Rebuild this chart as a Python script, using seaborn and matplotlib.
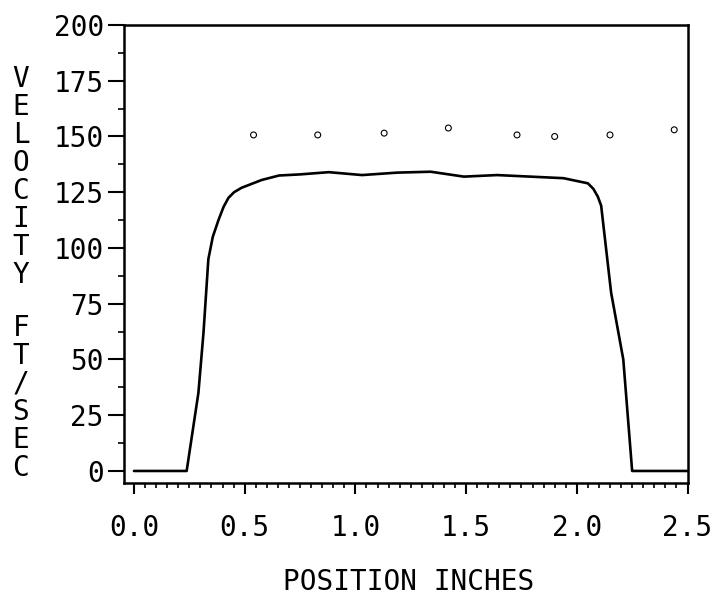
import matplotlib
matplotlib.use("Agg")
import matplotlib.pyplot as plt
from matplotlib.ticker import MultipleLocator
import numpy as np
import pandas as pd
import seaborn as sns

# ---- data ----
position = [0.0, 0.238, 0.291, 0.314, 0.336, 0.356, 0.382, 0.405, 0.427, 0.452, 0.486,
            0.577, 0.655, 0.75, 0.88, 1.03, 1.19, 1.34, 1.49, 1.64, 1.79, 1.94,
            2.05, 2.075, 2.095, 2.11, 2.155, 2.21, 2.25, 2.5]
velocity = [0, 0, 35, 62, 95, 105, 112.6, 118.5, 122.5, 125, 127,
            130.5, 132.5, 133, 134, 132.7, 133.8, 134.2, 132, 132.7, 132, 131.3,
            129, 126.5, 123, 119, 80, 50, 0, 0]
circle_x = [0.54, 0.83, 1.13, 1.42, 1.73, 1.90, 2.15, 2.44]
circle_y = [150.7, 150.7, 151.5, 153.8, 150.7, 150.0, 150.7, 153.0]
x_ticks = [0.0, 0.5, 1.0, 1.5, 2.0, 2.5]
x_tick_labels = ["0.0", "0.5", "1.0", "1.5", "2.0", "2.5"]
y_ticks = [0, 25, 50, 75, 100, 125, 150, 175, 200]
y_tick_labels = ["0", "25", "50", "75", "100", "125", "150", "175", "200"]
x_label = "POSITION INCHES"
y_label_top = "VELOCITY"
y_label_bottom = "FT/SEC"

sns.set_style("white")
plt.rcParams['font.family'] = ['DejaVu Sans Mono', 'DejaVu Sans']
plt.rcParams['text.color'] = 'black'
plt.rcParams['xtick.color'] = 'black'
plt.rcParams['ytick.color'] = 'black'
plt.rcParams['axes.labelcolor'] = 'black'

W, H = 717, 603
fig = plt.figure(figsize=(W / 100, H / 100), dpi=100)
left_px, right_px, top_px, bottom_px = 124, 687.5, 25, 483
ax = fig.add_axes([left_px / W, 1 - bottom_px / H,
                   (right_px - left_px) / W, (bottom_px - top_px) / H])

line_df = pd.DataFrame({"x": position, "y": velocity})
circ_df = pd.DataFrame({"x": circle_x, "y": circle_y})
sns.lineplot(data=line_df, x="x", y="y", ax=ax, color="black", linewidth=1.9,
             sort=False, estimator=None)
sns.scatterplot(data=circ_df, x="x", y="y", ax=ax, marker="o", s=18,
                facecolor="none", edgecolor="black", linewidth=0.8)

ax.set_xlim(-0.045, 2.5)
ax.set_ylim(-5.4, 200)
ax.set_xticks(x_ticks)
ax.set_xticklabels(x_tick_labels)
ax.set_yticks(y_ticks)
ax.set_yticklabels(y_tick_labels)
ax.xaxis.set_minor_locator(MultipleLocator(0.05))
ax.yaxis.set_minor_locator(MultipleLocator(12.5))
ax.tick_params(axis="x", which="major", direction="out", length=8, width=1.5,
               pad=14, labelsize=20, color="black", labelcolor="black", bottom=True)
ax.tick_params(axis="x", which="minor", direction="out", length=3.5, width=1.2,
               color="black", bottom=True)
ax.tick_params(axis="y", which="major", direction="out", length=11.5, width=1.5,
               pad=3, labelsize=20, color="black", labelcolor="black", left=True)
ax.tick_params(axis="y", which="minor", direction="out", length=4, width=1.2,
               color="black", left=True)
for s in ax.spines.values():
    s.set_color("black")
    s.set_linewidth(1.8)
    s.set_visible(True)
ax.set_xlabel("")
ax.set_ylabel("")

fig.text(409 / W, 1 - 582 / H, x_label, ha="center", va="center", fontsize=20,
         color="black")

# stacked vertical y label
for i, ch in enumerate(y_label_top):
    fig.text(21 / W, 1 - (79 + 28 * i) / H, ch, ha="center", va="center",
             fontsize=20, color="black")
for i, ch in enumerate(y_label_bottom):
    fig.text(21 / W, 1 - (328 + 28 * i) / H, ch, ha="center", va="center",
             fontsize=20, color="black")

fig.savefig("out.png", dpi=100, facecolor="white")
